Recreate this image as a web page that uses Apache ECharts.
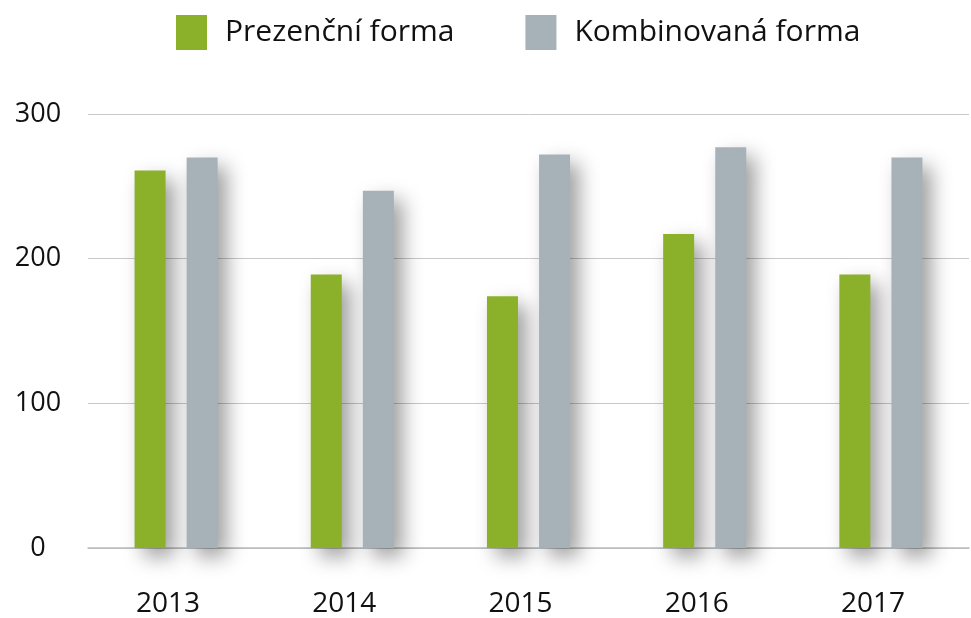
<!DOCTYPE html>
<html><head><meta charset="utf-8">
<script src="https://cdn.jsdelivr.net/npm/echarts@6/dist/echarts.min.js"></script>
<style>html,body{margin:0;padding:0;background:#fff}#c{width:971px;height:618px}</style>
</head><body><div id="c"></div>
<script>
const categories = ['2013', '2014', '2015', '2016', '2017'];
const prezencni = [261, 189, 174, 217, 189];
const kombinovana = [270, 247, 272, 277, 270];
const yTicks = [0, 100, 200, 300];

const FONT = 'Open Sans';
const chart = echarts.init(document.getElementById('c'));
const shadow = { shadowBlur: 20, shadowOffsetX: 9, shadowOffsetY: 9, shadowColor: 'rgba(0,0,0,0.38)' };
chart.setOption({
  animation: false,
  legend: {
    top: 15, left: 176, padding: 0, itemWidth: 31, itemHeight: 35, itemGap: 71,
    icon: 'rect',
    textStyle: { fontFamily: FONT, fontSize: 30, color: '#111', padding: [6, 0, 0, 13] },
    data: ['Prezenční forma', 'Kombinovaná forma']
  },
  grid: { left: 88, right: 2, top: 114, bottom: 70 },
  xAxis: {
    type: 'category', data: categories,
    axisLine: { lineStyle: { color: '#bbb', width: 1.5 } },
    axisTick: { show: false },
    axisLabel: { fontFamily: FONT, fontSize: 28, color: '#111', margin: 42, padding: [0, 16, 0, 0] }
  },
  yAxis: {
    type: 'value', min: yTicks[0], max: yTicks[yTicks.length - 1], interval: 100,
    axisLine: { show: false }, axisTick: { show: false },
    splitLine: { lineStyle: { color: '#c8c8c8', width: 1 } },
    axisLabel: { fontFamily: FONT, fontSize: 27, color: '#111', align: 'center', margin: 50, padding: [10, 0, 0, 0] }
  },
  series: [
    { name: 'Prezenční forma', type: 'bar', data: prezencni, barWidth: 31, barGap: '68%',
      itemStyle: Object.assign({ color: '#8bb02a' }, shadow) },
    { name: 'Kombinovaná forma', type: 'bar', data: kombinovana, barWidth: 31,
      itemStyle: Object.assign({ color: '#a7b1b8' }, shadow) }
  ]
});
</script></body></html>
